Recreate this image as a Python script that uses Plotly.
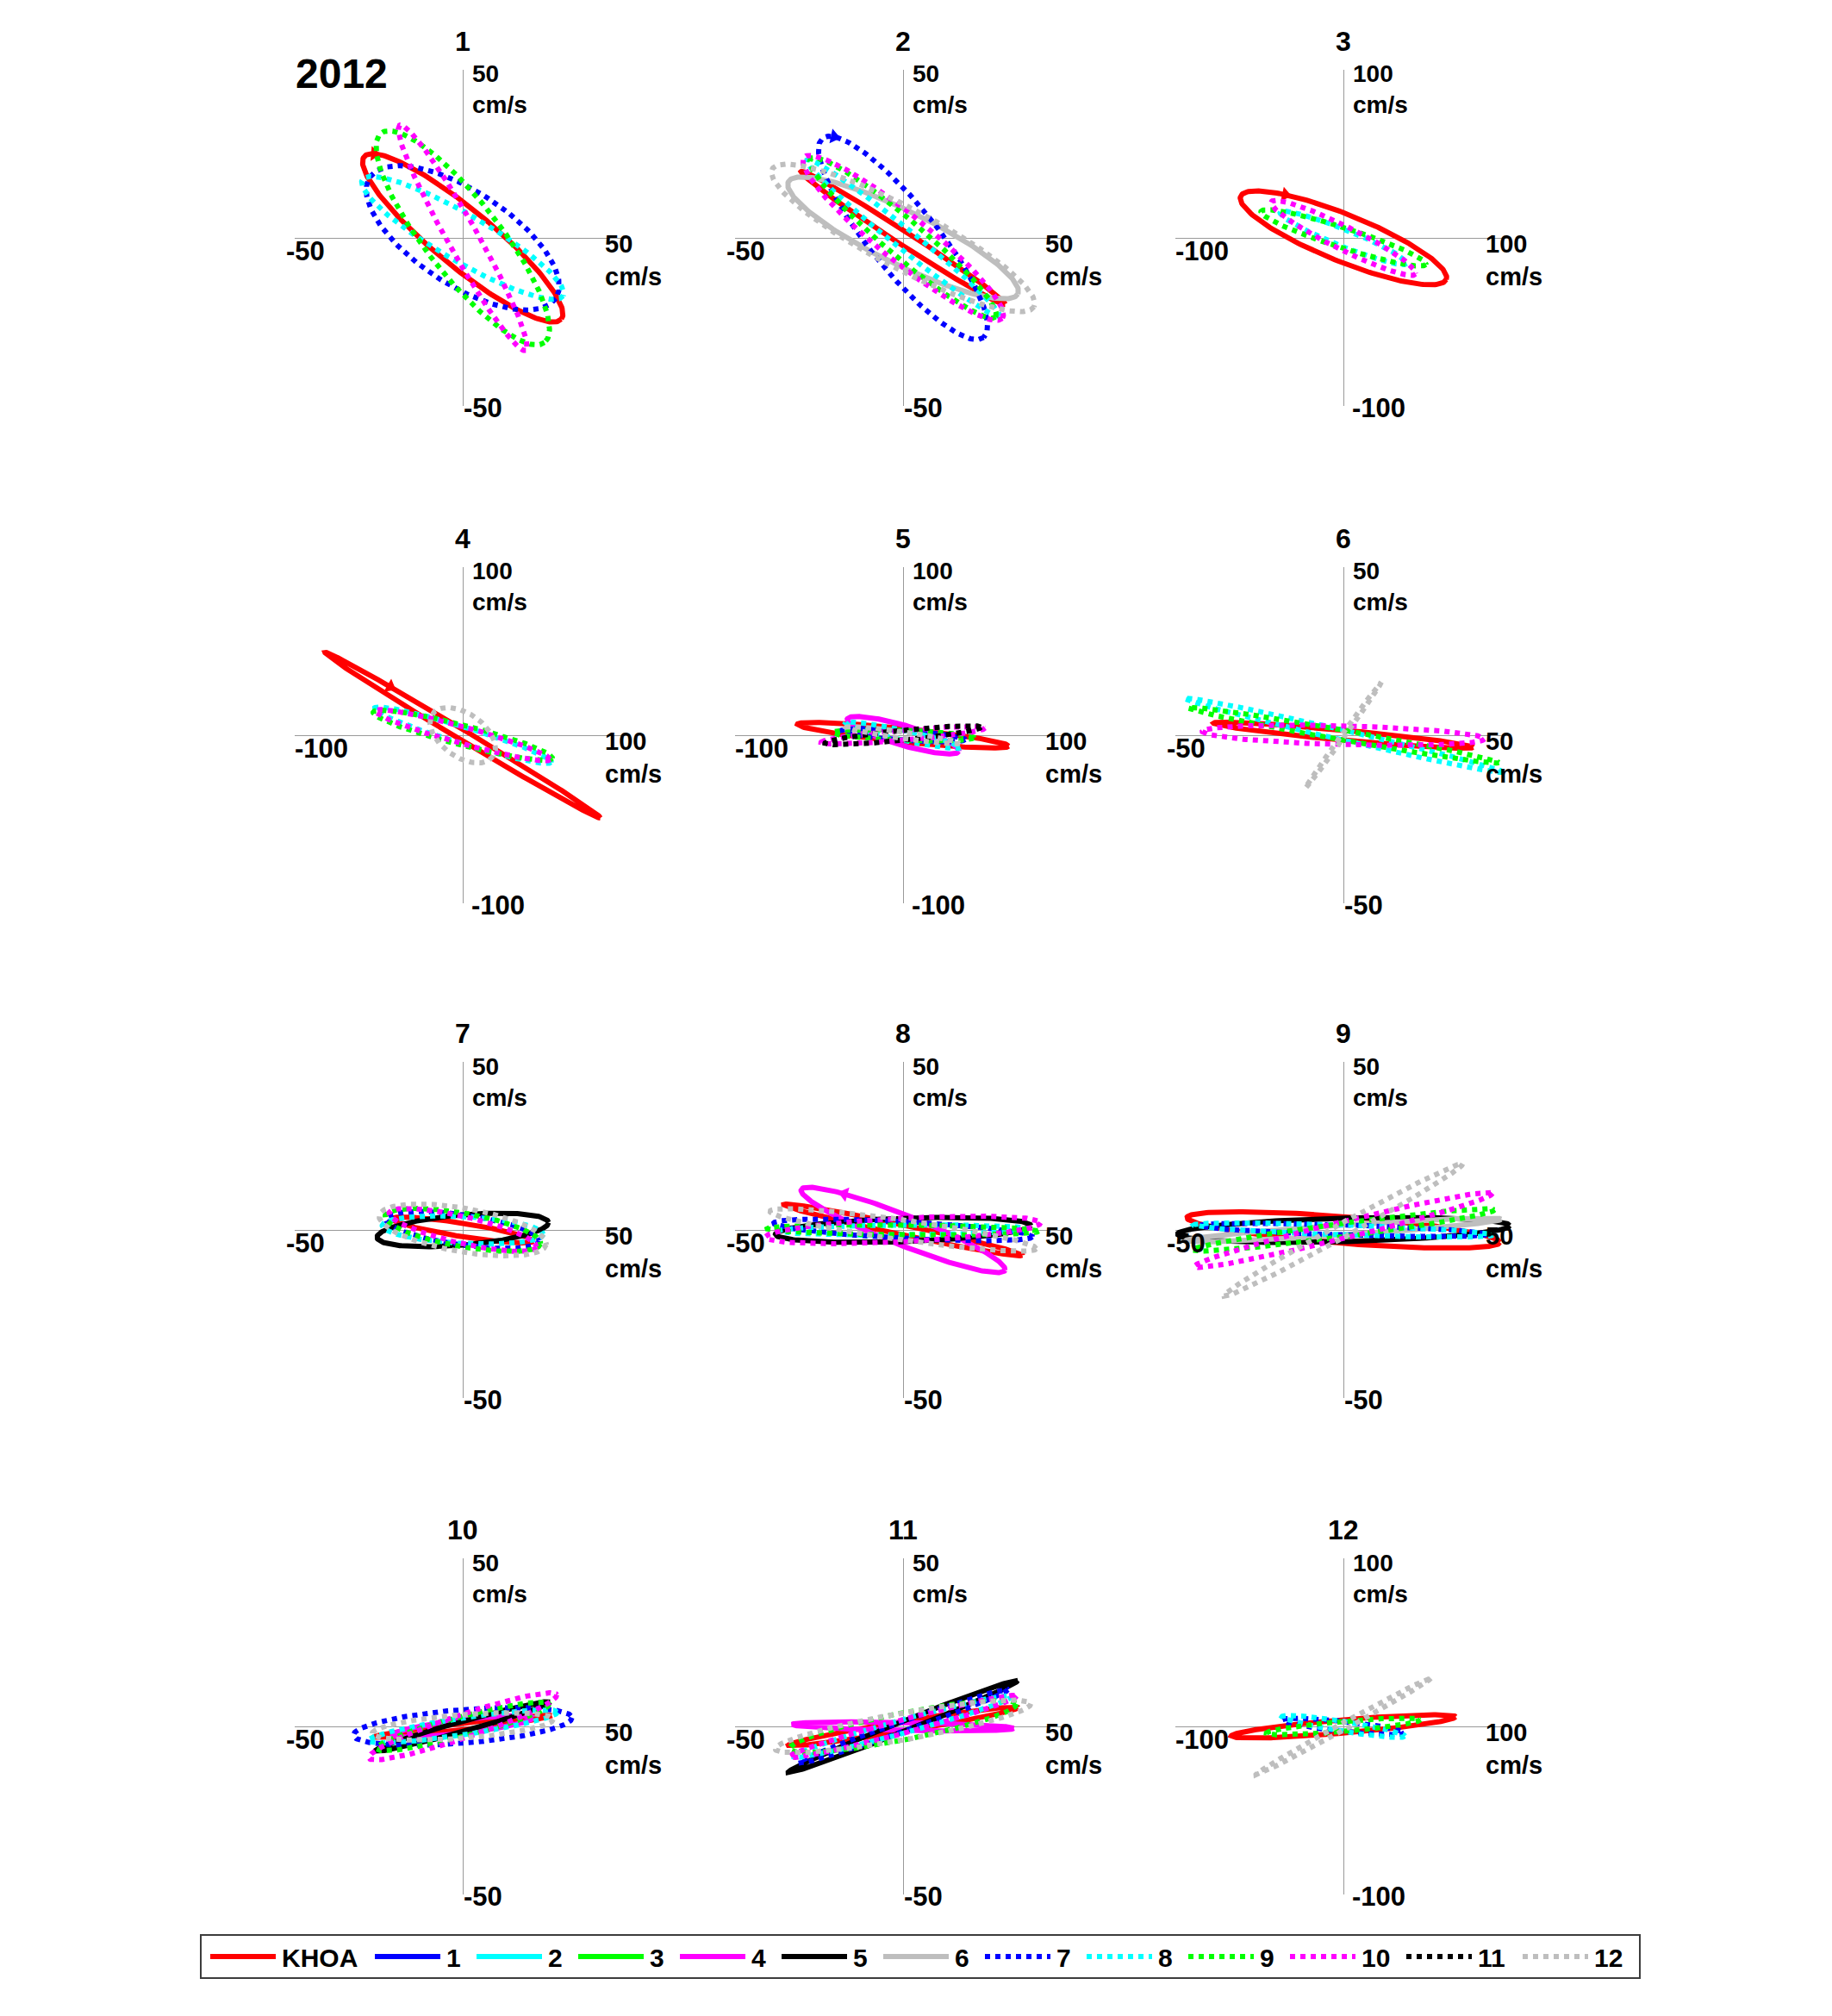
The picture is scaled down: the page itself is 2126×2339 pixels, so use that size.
import numpy as np
import plotly.graph_objects as go

W, H = 2126, 2339
FONT = "Liberation Sans, Arial, Helvetica, sans-serif"

# ---------------- data ----------------
SERIES_NAMES = ["KHOA", "1", "2", "3", "4", "5", "6", "7", "8", "9", "10", "11", "12"]
SERIES_COLORS = ["#ff0000", "#0000ff", "#00ffff", "#00ff00", "#ff00ff", "#000000", "#bebebe",
                 "#0000ff", "#00ffff", "#00ff00", "#ff00ff", "#000000", "#bebebe"]
SERIES_DASH = ["solid"] * 7 + ["dot"] * 6

PANEL_TITLES = ["1", "2", "3", "4", "5", "6", "7", "8", "9", "10", "11", "12"]
PANEL_RANGE = [50, 50, 100, 100, 100, 50, 50, 50, 50, 50, 50, 100]
YEAR_LABEL = "2012"
UNIT = "cm/s"

# series shown in each panel
PANEL_SERIES = [
    ["KHOA", "7", "8", "9", "10"],
    ["KHOA", "6", "7", "8", "9", "10", "12"],
    ["KHOA", "8", "9", "10"],
    ["KHOA", "8", "9", "10", "12"],
    ["KHOA", "4", "7", "8", "9", "10", "11", "12"],
    ["KHOA", "8", "9", "10", "12"],
    ["KHOA", "5", "7", "8", "9", "10", "12"],
    ["KHOA", "4", "5", "7", "8", "9", "10", "12"],
    ["KHOA", "5", "6", "7", "8", "9", "10", "12"],
    ["KHOA", "4", "5", "7", "8", "9", "10", "12"],
    ["KHOA", "4", "5", "7", "8", "9", "10", "12"],
    ["KHOA", "7", "8", "9", "12"],
]
# semi-major axis (cm/s)
PANEL_MAJOR = [
    [38.0, 33.0, 34.5, 39.5, 38.4],
    [36.2, 38.0, 38.1, 36.8, 36.2, 38.0, 44.0],
    [66.0, 40.6, 51.5, 48.0],
    [95.6, 55.0, 55.0, 54.0, 22.0],
    [63.2, 34.6, 37.0, 35.0, 42.0, 49.0, 46.7, 34.0],
    [38.8, 48.7, 47.0, 42.0, 19.4],
    [21.2, 25.6, 23.0, 24.0, 23.5, 22.5, 25.2],
    [36.3, 32.6, 38.0, 38.5, 37.0, 40.4, 41.0, 40.0],
    [46.7, 49.5, 47.1, 42.8, 44.6, 45.4, 45.7, 40.6],
    [26.7, 21.0, 27.0, 32.6, 28.5, 26.5, 29.5, 27.0],
    [34.6, 33.0, 36.8, 33.0, 33.7, 34.4, 35.0, 38.6],
    [67.0, 36.5, 37.0, 46.0, 59.4],
]
# semi-minor axis (cm/s), negative = clockwise rotation
PANEL_MINOR = [
    [-8.5, -14.0, -7.0, -11.0, -4.5],
    [-2.0, -8.0, -9.9, -3.0, -5.5, -7.0, -9.0],
    [-14.0, -5.0, -6.0, -7.0],
    [-3.0, -5.0, -6.0, -5.0, -13.0],
    [-4.0, -6.0, -3.0, -3.0, -3.0, -3.0, -3.0, -2.0],
    [-1.5, -1.5, -1.5, -2.8, -0.5],
    [-2.0, -4.5, -4.5, -4.0, -5.0, -4.0, -6.5],
    [-1.5, 4.5, -3.5, -2.5, -1.5, -1.5, -3.5, -3.0],
    [-4.0, -3.5, -1.5, -1.5, -1.5, -2.0, -2.5, -2.0],
    [-1.0, -2.0, -1.5, -5.0, -2.5, -3.0, -3.5, -3.5],
    [-1.5, -1.2, -1.5, -1.5, -2.0, -4.0, -2.0, -4.0],
    [-4.0, -3.0, -3.0, -3.0, -2.0],
]
# inclination of the major axis (degrees, counter-clockwise from east)
PANEL_INCL = [
    [-39.5, -33.0, -30.0, -52.0, -60.7],
    [-33.0, -26.0, -51.0, -39.0, -40.5, -39.0, -27.7],
    [-22.0, -22.0, -17.8, -26.5],
    [-31.0, -17.0, -14.4, -15.5, -35.0],
    [-5.9, -16.0, -4.0, -12.0, -2.0, 5.0, 5.9, -8.0],
    [-5.3, -13.0, -10.0, -1.5, 54.4],
    [-9.0, 5.0, -8.0, -3.0, -10.0, -13.0, -9.8],
    [-12.0, -21.6, 2.0, -3.0, 0.5, -0.5, 3.0, -8.0],
    [-4.5, 1.5, 3.9, -1.7, -1.9, 7.6, 13.8, 29.0],
    [6.9, 7.0, 15.6, 4.6, 8.6, 14.5, 18.6, 4.5],
    [9.3, -1.0, 21.8, 19.3, 15.5, 11.2, 15.0, 10.1],
    [4.9, -6.0, -9.0, 5.0, 28.9],
]
# rotation-direction arrows (series and phase in radians)
ARROW_SERIES = ["KHOA", "7", "KHOA", "KHOA", None, None, None, "4", None, None, None, None]
ARROW_PHASE = [3.45, 3.45, 4.03, 4.14, None, None, None, 2.24, None, None, None, None]

# ---------------- layout geometry ----------------
COL_X = [537, 1048, 1559]
ROW_Y = [276, 853, 1427, 2003]
HALF = 195


def px(x):
    return x / W


def py(y):
    return 1 - y / H


fig = go.Figure()
annotations = []
shapes = []


def add_text(txt, x, y, size, xanchor="left"):
    annotations.append(dict(
        text=txt, x=px(x), y=py(y), xref="paper", yref="paper",
        xanchor=xanchor, yanchor="middle", align=xanchor if xanchor != "center" else "center",
        showarrow=False, borderpad=0,
        font=dict(family=FONT, size=size, color="black", weight="bold"),
    ))


tt = np.linspace(0, 2 * np.pi, 241)
layout_axes = {}
for p in range(12):
    r, c = divmod(p, 3)
    cx, cy = COL_X[c], ROW_Y[r]
    R = PANEL_RANGE[p]
    n = "" if p == 0 else str(p + 1)
    layout_axes["xaxis" + n] = dict(
        domain=[px(cx - HALF), px(cx + HALF)], range=[-R, R], anchor="y" + n,
        showgrid=False, showticklabels=False, ticks="", showline=False,
        zeroline=True, zerolinecolor="#9a9a9a", zerolinewidth=1, fixedrange=True,
    )
    layout_axes["yaxis" + n] = dict(
        domain=[py(cy + HALF), py(cy - HALF)], range=[-R, R], anchor="x" + n,
        showgrid=False, showticklabels=False, ticks="", showline=False,
        zeroline=True, zerolinecolor="#9a9a9a", zerolinewidth=1, fixedrange=True,
    )
    for s, name in enumerate(PANEL_SERIES[p]):
        k = SERIES_NAMES.index(name)
        a = PANEL_MAJOR[p][s]
        b = PANEL_MINOR[p][s]
        th = np.deg2rad(PANEL_INCL[p][s])
        xe = a * np.cos(tt)
        ye = b * np.sin(tt)
        x = xe * np.cos(th) - ye * np.sin(th)
        y = xe * np.sin(th) + ye * np.cos(th)
        fig.add_trace(go.Scatter(
            x=x, y=y, mode="lines", name=name, showlegend=False, hoverinfo="skip",
            line=dict(color=SERIES_COLORS[k], width=6, dash=SERIES_DASH[k]),
            xaxis="x" + n, yaxis="y" + n,
        ))
        if ARROW_SERIES[p] == name:
            t0 = ARROW_PHASE[p]
            xe0, ye0 = a * np.cos(t0), b * np.sin(t0)
            dxe, dye = -a * np.sin(t0), b * np.cos(t0)
            x0 = xe0 * np.cos(th) - ye0 * np.sin(th)
            y0 = xe0 * np.sin(th) + ye0 * np.cos(th)
            dx = dxe * np.cos(th) - dye * np.sin(th)
            dy = dxe * np.sin(th) + dye * np.cos(th)
            ang = float(np.degrees(np.arctan2(dx, dy)))
            fig.add_trace(go.Scatter(
                x=[x0], y=[y0], mode="markers", showlegend=False, hoverinfo="skip",
                marker=dict(symbol="triangle-up", size=15, angle=ang,
                            color=SERIES_COLORS[k], line=dict(width=0)),
                xaxis="x" + n, yaxis="y" + n,
            ))

    # texts
    big = R >= 100
    add_text(PANEL_TITLES[p], cx, cy - 228, 32, xanchor="center")
    add_text(f"{R}<br>{UNIT}", cx + 10, cy - 172, 28)
    add_text(f"-{R}", cx - (196 if big else 206), cy + 15, 31)
    add_text(f"{R}<br>{UNIT}", cx + 164, cy + 26, 29)
    add_text(f"-{R}", cx + (9 if big else 0), cy + 197, 31)

add_text(YEAR_LABEL, COL_X[0] - 195, ROW_Y[0] - 191, 48)

# ---------------- custom legend ----------------
LEG_X0, LEG_X1, LEG_Y0, LEG_Y1 = 233, 1903, 2245, 2295
shapes.append(dict(type="rect", xref="paper", yref="paper",
                   x0=px(LEG_X0), x1=px(LEG_X1), y0=py(LEG_Y1), y1=py(LEG_Y0),
                   line=dict(color="#3c3c3c", width=2), fillcolor="rgba(0,0,0,0)"))
char_w = {"K": 22, "H": 22, "O": 24, "A": 22}
xpos = 244
ymid = (LEG_Y0 + LEG_Y1) / 2
for k, name in enumerate(SERIES_NAMES):
    shapes.append(dict(type="line", xref="paper", yref="paper",
                       x0=px(xpos), x1=px(xpos + 76), y0=py(ymid), y1=py(ymid),
                       line=dict(color=SERIES_COLORS[k], width=6, dash=SERIES_DASH[k])))
    add_text(name, xpos + 82, ymid + 1, 30)
    tw = sum(char_w.get(ch, 17) for ch in name)
    xpos += 101 + tw

fig.update_layout(
    width=W, height=H, margin=dict(l=0, r=0, t=0, b=0),
    paper_bgcolor="white", plot_bgcolor="white",
    annotations=annotations, shapes=shapes, showlegend=False,
    **layout_axes,
)

fig.write_html("out.html", config={"displayModeBar": False},
               post_script="document.body.style.margin='0';")
